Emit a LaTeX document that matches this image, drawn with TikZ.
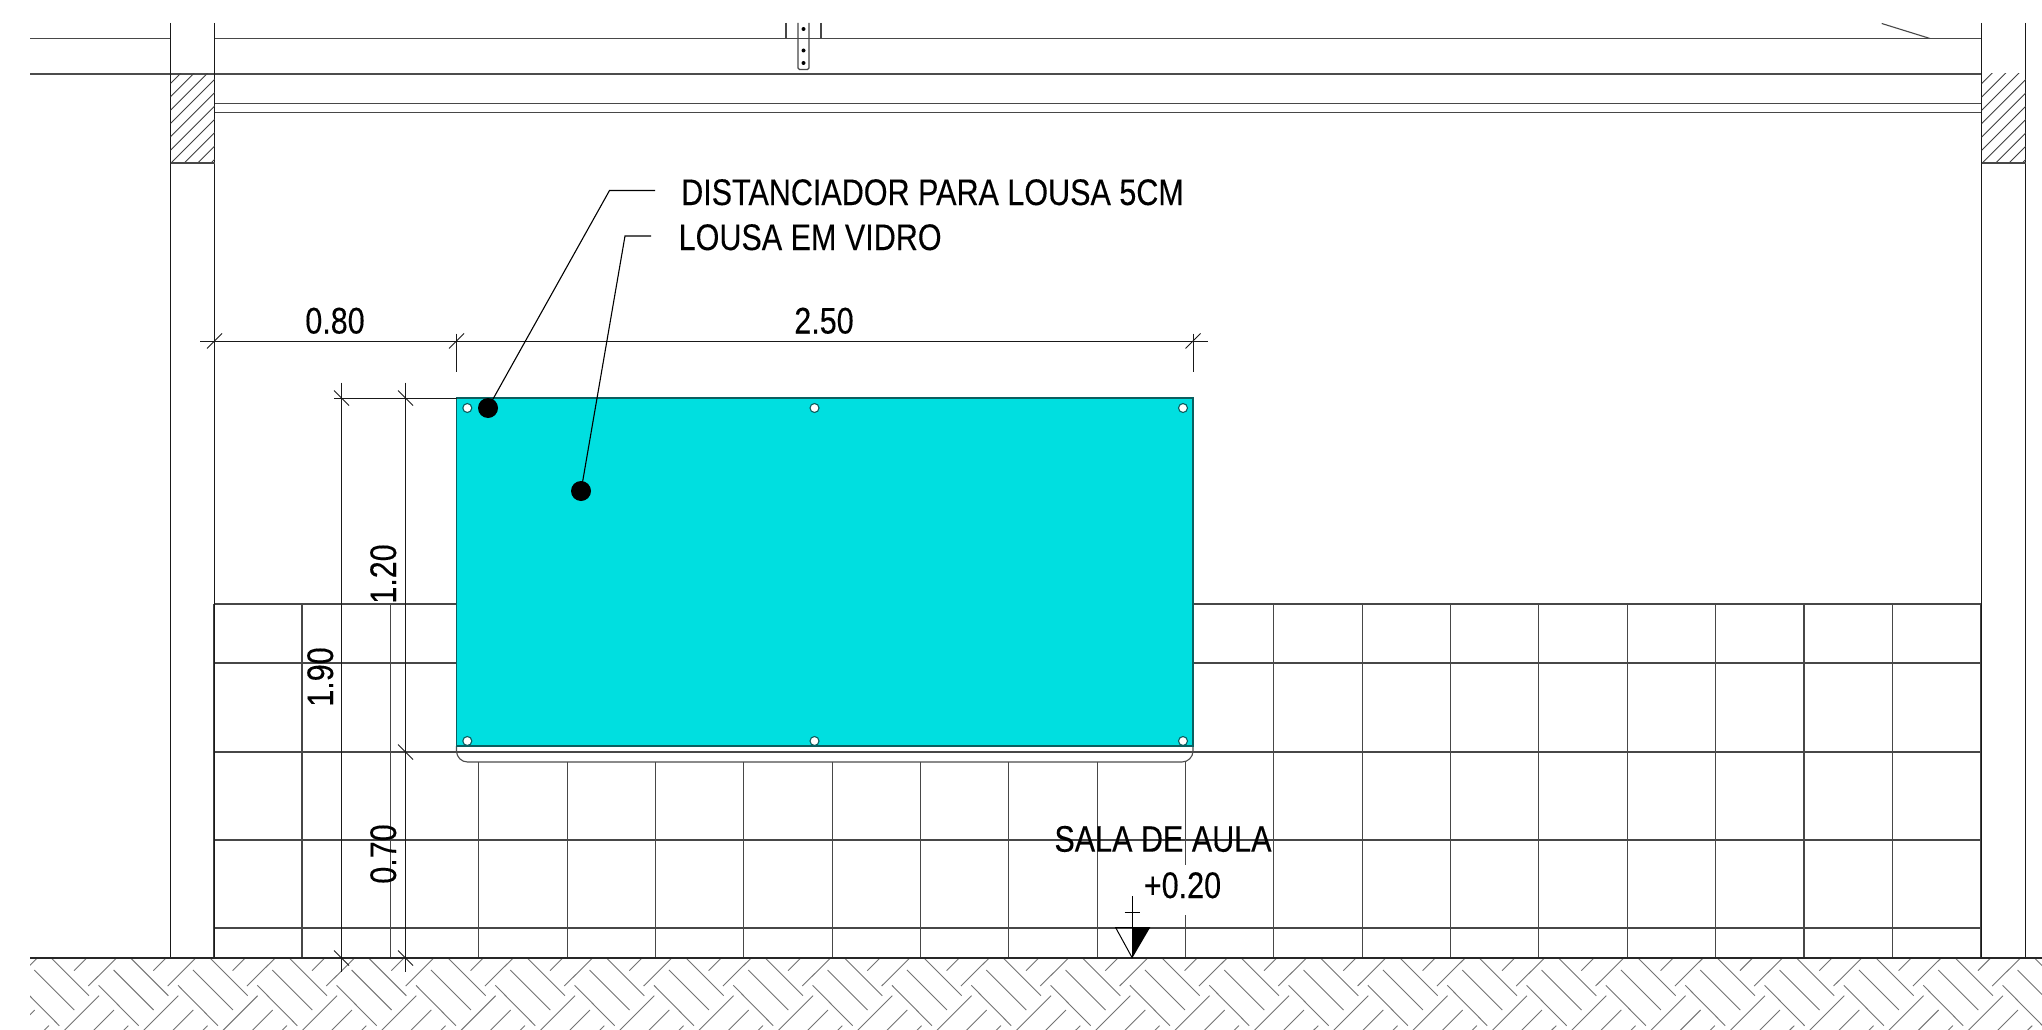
\documentclass[tikz,border=0pt]{standalone}
\usepackage{fontspec}
\newfontfamily\narrowfont[FakeStretch=0.825,FakeBold=0.2]{Liberation Sans}
\definecolor{board}{HTML}{00DFE0}
\definecolor{boardedge}{HTML}{0A5F60}
\tikzset{
  ln/.style={line width=1.1pt,draw=black!70},
  thin ln/.style={line width=1.1pt,draw=black!72},
  hatchln/.style={line width=0.9pt,draw=black!75},
  groundln/.style={line width=0.9pt,draw=black!55},
  dimln/.style={line width=1.0pt,draw=black!90},
  lbl/.style={font=\narrowfont\fontsize{37}{37}\selectfont,text=black,inner sep=0pt,anchor=base},
  lbll/.style={lbl,anchor=base west},
  vlbl/.style={lbl,rotate=90},
  holed/.style={circle,fill=white,draw=boardedge,line width=1.1pt,inner sep=0pt,minimum size=9pt},
  dotn/.style={circle,fill=black,inner sep=0pt,minimum size=20pt},
  pin/.style={circle,fill=black,inner sep=0pt,minimum size=4pt}
}
\begin{document}
\begin{tikzpicture}[x=1pt,y=-1pt]
\useasboundingbox (0,0) rectangle (2042,1030);
\fill[white] (0,0) rectangle (2042,1030);
% ground hatch
\begin{scope}
\clip (30,958) rectangle (2042,1030);
\foreach \i in {-1,...,26}{
 \foreach \j in {-1,0,1}{
  \begin{scope}[shift={(79.33*\i,79.33*\j)}]
   \draw[groundln] (49,955.7)--(89,995.7);
   \draw[groundln] (34.3,970)--(74.3,1010);
   \draw[groundln] (19.3,985.3)--(59.3,1025.7);
   \draw[groundln] (128.3,946.3)--(88.3,986);
   \draw[groundln] (99,995.7)--(59,1035.7);
   \draw[groundln] (114,1010)--(74,1050);
  \end{scope}
 }
}
\end{scope}
% tile wall
\foreach \k in {0,1,11,12,13,14,15,16,17,18,19}{
  \draw[thin ln] ({302+88.35*\k},604)--({302+88.35*\k},958);
}
\foreach \k in {2,...,9}{
  \draw[thin ln] ({302+88.35*\k},762)--({302+88.35*\k},958);
}
\draw[thin ln] (1185.5,762)--(1185.5,865) (1185.5,915)--(1185.5,958);
\draw[thin ln] (214,604)--(456.5,604) (1193,604)--(1981,604);
\draw[thin ln] (214,663)--(456.5,663) (1193,663)--(1981,663);
\draw[thin ln] (214,752)--(1981,752);
\draw[thin ln] (214,840)--(1981,840);
\draw[thin ln] (214,928)--(1981,928);
\draw[line width=1.8pt,draw=black!75] (214,604)--(214,958) (1981,604)--(1981,958);
% structure
\draw[thin ln] (30,38.5)--(170.5,38.5) (214.5,38.5)--(1981.5,38.5);
\draw[ln] (30,74)--(1981.5,74);
\draw[thin ln] (214.5,103.5)--(1981.5,103.5) (214.5,112.5)--(1981.5,112.5);
\draw[ln,draw=black!90] (170.5,23)--(170.5,958) (214.5,23)--(214.5,958);
\draw[ln,draw=black!90] (1981.7,23)--(1981.7,958) (2025.7,23)--(2025.7,958);
\draw[ln,draw=black!85] (30,958)--(2042,958);
% hatched columns
\begin{scope}
\clip (170.5,74) rectangle (214.5,163);
\foreach \k in {0,...,11}{
  \draw[hatchln] ({254+13.33*\k-200},200)--({254+13.33*\k},0);
}
\end{scope}
\draw[thin ln] (170.5,163)--(214.5,163);
\begin{scope}
\clip (1981.7,74) rectangle (2025.7,163);
\foreach \k in {0,...,11}{
  \draw[hatchln] ({2065.3+13.33*\k-200},200)--({2065.3+13.33*\k},0);
}
\end{scope}
\draw[thin ln] (1981.7,163)--(2025.7,163);
% top details
\draw[thin ln] (786,23)--(786,38.5) (821,23)--(821,38.5);
\draw[thin ln,rounded corners=1.5pt] (798,23)--(798,69.5)--(809,69.5)--(809,23);
\node[pin] (p1) at (803.5,29) {};
\node[pin] (p2) at (803.5,50.5) {};
\node[pin] (p3) at (803.5,63) {};
\draw[thin ln] (1881.7,23.5)--(1930,38.5);
% board ledge and board
\draw[ln,rounded corners=11pt] (456.5,746)--(456.5,762)--(1193,762)--(1193,746);
\fill[board] (456.5,398) rectangle (1193,746);
\draw[line width=1.2pt,draw=boardedge] (456.5,398) rectangle (1193,746);
\node[holed] (h1) at (467.3,408) {};
\node[holed] (h2) at (814.5,408) {};
\node[holed] (h3) at (1183,408) {};
\node[holed] (h4) at (467.3,741) {};
\node[holed] (h5) at (814.5,741) {};
\node[holed] (h6) at (1183,741) {};
% horizontal dimensions
\draw[dimln] (200,341)--(1207.5,341);
\draw[dimln] (214.7,333)--(214.7,372) (456.5,333.7)--(456.5,372) (1193,333.7)--(1193,372);
\draw[dimln] (207,348.5)--(222,333.5) (449,348.5)--(464,333.5) (1185.5,348.5)--(1200.5,333.5);
% vertical dimensions
\draw[dimln] (334,398)--(456.5,398);
\draw[dimln] (341.7,382.7)--(341.7,972) (405.7,382.7)--(405.7,972);
\draw[dimln] (334,390.5)--(349,405.5) (398,390.5)--(413,405.5)
  (398,744.5)--(413,759.5) (334,950.5)--(349,965.5) (398,950.5)--(413,965.5);
% labels
\node[lbl] (d080) at (335,333.5) {0.80};
\node[lbl] (d250) at (824,333.5) {2.50};
\node[vlbl] (d120) at (396,574) {1.20};
\node[vlbl] (d190) at (333,677) {1.90};
\node[vlbl] (d070) at (396,854) {0.70};
\node[lbll] (t1) at (681,205) {DISTANCIADOR PARA LOUSA 5CM};
\node[lbll] (t2) at (678.5,250) {LOUSA EM VIDRO};
\node[lbl] (t3) at (1163,851.7) {SALA DE AULA};
\node[lbl] (t4) at (1182.5,898) {+0.20};
% leaders
\node[dotn] (d1) at (488,408) {};
\node[dotn] (d2) at (581,491) {};
\coordinate (e1) at (609.5,190.5);
\coordinate (f1) at (655,190.5);
\coordinate (e2) at (625,236);
\coordinate (f2) at (651,236);
\draw[line width=1.1pt] (d1.center)--(e1)--(f1);
\draw[line width=1.1pt] (d2.center)--(e2)--(f2);
% level mark
\coordinate (la) at (1132.3,958);
\coordinate (lb) at (1115.7,927.7);
\coordinate (lc) at (1150,927.7);
\coordinate (lt) at (1132.3,927.7);
\fill[black] (la)--(lc)--(lt)--cycle;
\draw[line width=1pt] (la)--(lb)--(lc);
\draw[line width=1pt] (1132.3,896)--(la);
\draw[line width=1pt] (1124.5,912)--(1139.5,912);
\end{tikzpicture}
\end{document}
